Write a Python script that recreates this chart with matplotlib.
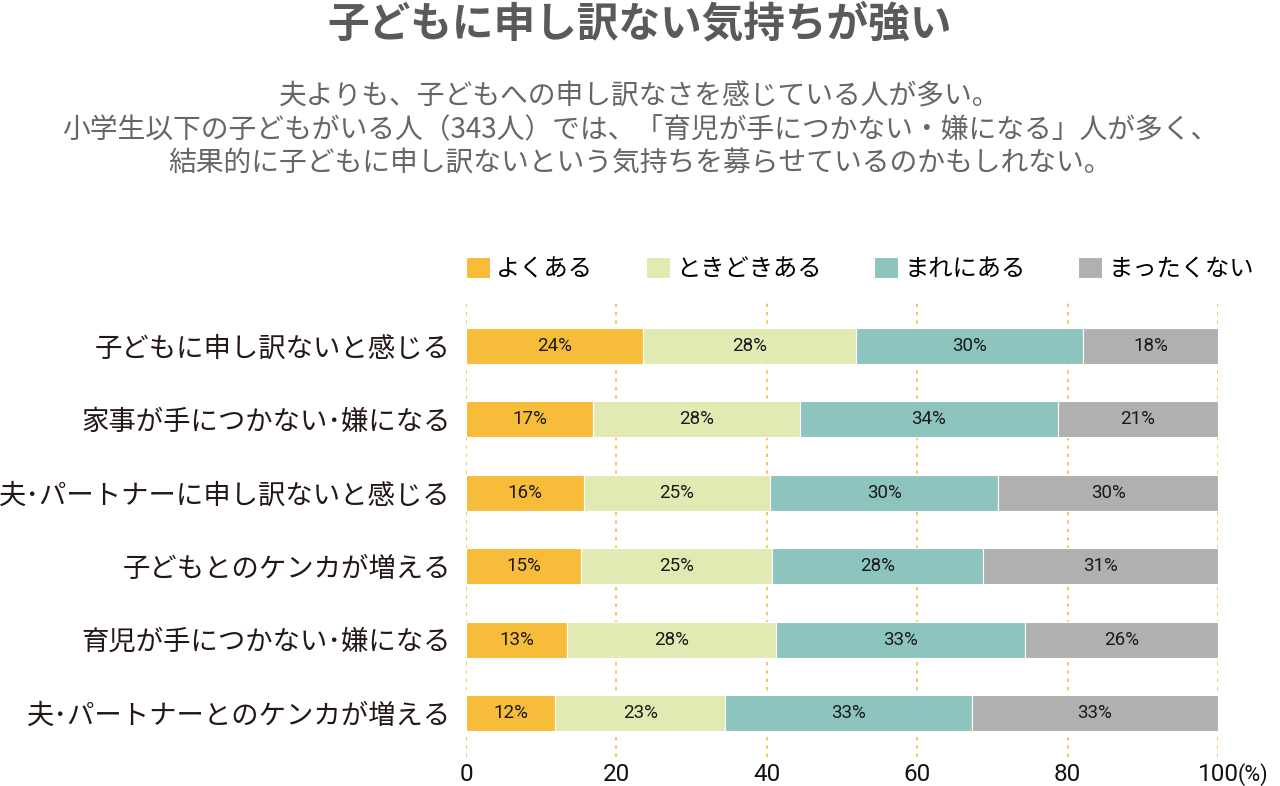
import numpy as np
import matplotlib
matplotlib.use('Agg')
import matplotlib.pyplot as plt

plt.rcParams['font.family'] = ['Noto Sans CJK JP', 'DejaVu Sans']

# Data (percent of respondents)
categories = ['子どもに申し訳ないと感じる', '家事が手につかない･嫌になる', '夫･パートナーに申し訳ないと感じる',
              '子どもとのケンカが増える', '育児が手につかない･嫌になる', '夫･パートナーとのケンカが増える']
series_names = ['よくある', 'ときどきある', 'まれにある', 'まったくない']
often = [23.6, 16.9, 15.7, 15.3, 13.4, 11.9]
sometimes = [28.2, 27.5, 24.7, 25.4, 27.8, 22.6]
rarely = [30.3, 34.3, 30.4, 28.0, 33.2, 32.8]
never = [17.9, 21.3, 29.2, 31.3, 25.6, 32.7]
# percentages printed on the bars
shown = [[24, 17, 16, 15, 13, 12],
         [28, 28, 25, 25, 28, 23],
         [30, 34, 30, 28, 33, 33],
         [18, 21, 30, 31, 26, 33]]
xticks = [0, 20, 40, 60, 80, 100]

colors = ['#F8BC3B', '#E0EAB2', '#8EC4BE', '#B0B0B0']

fig = plt.figure(figsize=(12.8, 7.86), dpi=100)
ax = fig.add_axes([466 / 1280, 1 - 757 / 786, (1218 - 466) / 1280, 457 / 786])

y = np.arange(len(categories))
left = np.zeros(len(categories))
for name, vals, col, labs in zip(series_names, [often, sometimes, rarely, never], colors, shown):
    bars = ax.barh(y, vals, left=left, height=0.49, color=col, edgecolor='white',
                   linewidth=0.8, label=name, zorder=2)
    ax.bar_label(bars, labels=[f'{v}%' for v in labs], label_type='center',
                 fontsize=13.5, color='#1a1a1a', family='Roboto')
    left += np.array(vals)

ax.set_xlim(0, 100)
ax.set_ylim(5.6, -0.627)
ax.set_yticks(y)
ax.set_yticklabels(categories, fontsize=19.7, color='#231815')
ax.set_xticks(xticks)
ax.set_xticklabels([str(t) for t in xticks], fontsize=17.5, family='Roboto', color='#111111')
ax.tick_params(axis='both', length=0)
ax.tick_params(axis='y', pad=11)
ax.tick_params(axis='x', pad=4)
for s in ax.spines.values():
    s.set_visible(False)
ax.grid(axis='x', linestyle=(0, (2, 3)), color='#F8BC3B', linewidth=1.2, zorder=0)
ax.set_axisbelow(True)

ax.annotate('(%)', xy=(100, 0), xycoords=('data', 'axes fraction'), xytext=(14, -4),
            textcoords='offset points', ha='left', va='top', fontsize=15.5,
            family='Roboto', color='#111111')

ax.legend(loc='center left', bbox_to_anchor=(0, 1.068), ncol=4, frameon=False,
          fontsize=17.5, handlelength=1, handleheight=1, handletextpad=0.25,
          columnspacing=2.15, borderpad=0, borderaxespad=0)

fig.text(0.5, 1 - 24 / 786, '子どもに申し訳ない気持ちが強い', ha='center', va='center',
         fontsize=30, fontweight='bold', color='#5a5a5a')
subtitle = ['夫よりも、子どもへの申し訳なさを感じている人が多い。',
            '小学生以下の子どもがいる人（343人）では、「育児が手につかない・嫌になる」人が多く、',
            '結果的に子どもに申し訳ないという気持ちを募らせているのかもしれない。']
for i, line in enumerate(subtitle):
    fig.text(0.5, 1 - (96 + 34 * i) / 786, line, ha='center', va='center',
             fontsize=20, color='#666666')

fig.savefig('out.png', dpi=100)
